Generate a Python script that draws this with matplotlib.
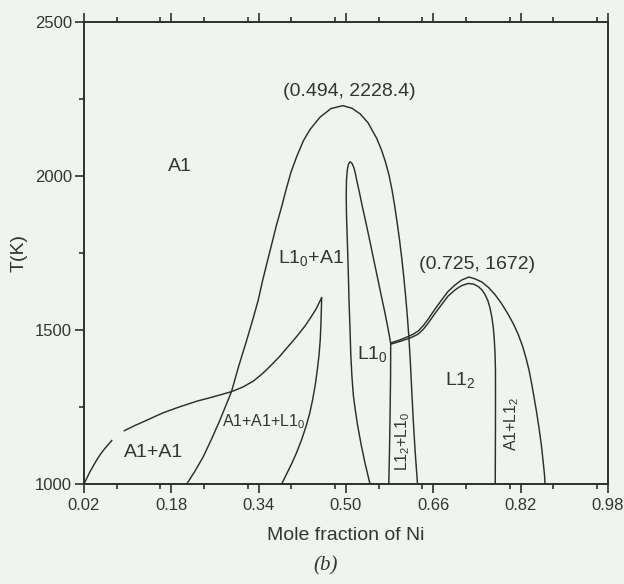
import matplotlib
matplotlib.use("Agg")
import matplotlib.pyplot as plt
from matplotlib.ticker import MultipleLocator, FixedLocator

plt.rcParams['font.family'] = ['Liberation Sans', 'DejaVu Sans']
plt.rcParams['mathtext.fontset'] = 'custom'
plt.rcParams['mathtext.rm'] = 'Liberation Sans'
plt.rcParams['mathtext.it'] = 'Liberation Sans'

# ---- data (mole fraction of Ni, temperature K) ----
small_x = [0.020, 0.0218, 0.031, 0.0433, 0.0502, 0.0585, 0.0708]
small_T = [1000, 1007, 1040, 1078, 1097, 1116, 1141]

misc_x = [0.0938, 0.1134, 0.1349, 0.1647, 0.1959, 0.2270, 0.2569, 0.2906, 0.3113, 0.3302,
          0.3461, 0.3608, 0.3773, 0.3938, 0.4097, 0.4249, 0.4359, 0.4451, 0.4515, 0.4555,
          0.4548, 0.4540, 0.4528, 0.4506, 0.4474, 0.4436, 0.4388, 0.4332, 0.4264, 0.4185,
          0.4093, 0.4002, 0.3910, 0.3822]
misc_T = [1173, 1190, 1207, 1231, 1251, 1269, 1283, 1300, 1315, 1334,
          1357, 1382, 1412, 1446, 1479, 1513, 1542, 1568, 1591, 1606,
          1565, 1516, 1468, 1419, 1370, 1321, 1273, 1227, 1185, 1143,
          1101, 1065, 1032, 1000]

outer_x = [0.2082, 0.2234, 0.2386, 0.2545, 0.2692, 0.2802, 0.2902, 0.3040, 0.3183, 0.3310,
           0.3392, 0.3466, 0.3547, 0.3635, 0.3727, 0.3819, 0.3901, 0.3993, 0.4097, 0.4218,
           0.4341, 0.4524, 0.4725, 0.494, 0.5110, 0.5257, 0.5403, 0.5563, 0.5651, 0.5724,
           0.5788, 0.5843, 0.5889, 0.5935, 0.5981, 0.6021, 0.6057, 0.6090, 0.6122, 0.6149,
           0.6177, 0.6204, 0.6232, 0.6265, 0.6310]
outer_T = [1000, 1042, 1089, 1149, 1208, 1256, 1300, 1386, 1468, 1545,
           1597, 1656, 1714, 1776, 1841, 1899, 1955, 2013, 2063, 2114,
           2151, 2191, 2219, 2228.4, 2220, 2202, 2173, 2122, 2084, 2045,
           2003, 1955, 1906, 1851, 1792, 1734, 1675, 1614, 1549, 1484,
           1403, 1305, 1208, 1110, 1000]

l10_x = [0.5440, 0.5348, 0.5275, 0.5211, 0.5165, 0.5134, 0.5107, 0.5088, 0.5074, 0.5055,
         0.5041, 0.5024, 0.5009, 0.5004, 0.5009, 0.5024, 0.5046, 0.5074, 0.5110, 0.5147,
         0.5174, 0.5202, 0.5248, 0.5293, 0.5367, 0.5440, 0.5513, 0.5587, 0.5651, 0.5706,
         0.5761, 0.5819, 0.5816, 0.5806, 0.5797, 0.5784]
l10_T = [1000, 1068, 1130, 1192, 1247, 1289, 1354, 1419, 1500, 1597,
         1695, 1792, 1873, 1938, 1987, 2020, 2039, 2046, 2041, 2026,
         2006, 1982, 1945, 1906, 1847, 1786, 1724, 1662, 1607, 1562,
         1513, 1457, 1338, 1208, 1110, 1000]

l12o_x = [0.5838, 0.5990, 0.6142, 0.6237, 0.6325, 0.6420, 0.6508, 0.6631, 0.6754, 0.6869,
          0.6997, 0.7116, 0.725, 0.7364, 0.7487, 0.7611, 0.7730, 0.7849, 0.7974, 0.8069,
          0.8157, 0.8234, 0.8298, 0.8353, 0.8399, 0.8445, 0.8491, 0.8536, 0.8579, 0.8613,
          0.8637, 0.8646]
l12o_T = [1459, 1468, 1479, 1487, 1497, 1515, 1536, 1568, 1598, 1625,
          1646, 1662, 1672, 1666, 1656, 1638, 1615, 1586, 1550, 1519,
          1485, 1448, 1409, 1370, 1328, 1282, 1234, 1182, 1127, 1071,
          1029, 1000]

l12i_x = [0.5838, 0.5990, 0.6142, 0.6237, 0.6325, 0.6420, 0.6508, 0.6631, 0.6754, 0.6869,
          0.6997, 0.7116, 0.7236, 0.7336, 0.7424, 0.7492, 0.7547, 0.7598, 0.7639, 0.7672,
          0.7699, 0.7717, 0.7730, 0.7738, 0.7739, 0.7738, 0.7734]
l12i_T = [1455, 1463, 1472, 1479, 1487, 1503, 1523, 1554, 1583, 1610,
          1630, 1644, 1651, 1649, 1641, 1630, 1615, 1596, 1571, 1542,
          1507, 1468, 1425, 1370, 1295, 1175, 1000]

x_ticks = [0.02, 0.18, 0.34, 0.50, 0.66, 0.82, 0.98]
x_ticklabels = ['0.02', '0.18', '0.34', '0.50', '0.66', '0.82', '0.98']
y_ticks = [1000, 1500, 2000, 2500]
y_ticklabels = ['1000', '1500', '2000', '2500']

region_labels = [
    ("A1", 0.1959, 2032, 0, 'center', 'center', 14),
    ("L1$_0$+A1", 0.3762, 1717, 0, 'left', 'baseline', 14),
    ("L1$_0$", 0.5207, 1405, 0, 'left', 'baseline', 14),
    ("L1$_2$", 0.6814, 1321, 0, 'left', 'baseline', 14),
    ("A1+A1", 0.0938, 1089, 0, 'left', 'baseline', 14),
    ("A1+A1+L1$_0$", 0.2723, 1186, 0, 'left', 'baseline', 11.5),
    ("L1$_2$+L1$_0$", 0.6035, 1138, 90, 'center', 'center', 11.5),
    ("A1+L1$_2$", 0.8036, 1195, 90, 'center', 'center', 11.5),
]
annotations = [
    ("(0.494, 2228.4)", 0.5055, 2273),
    ("(0.725, 1672)", 0.7395, 1713),
]

# ---- style ----
bg = '#f1f3f1'
lc = '#26332a'
tc = '#2e382f'

fig = plt.figure(figsize=(6.24, 5.84), dpi=100, facecolor=bg)
ax = fig.add_axes([84/624, 1-484/584, 524/624, 462/584])
ax.set_facecolor(bg)

for xs, ts in [(small_x, small_T), (misc_x, misc_T), (outer_x, outer_T),
               (l10_x, l10_T), (l12o_x, l12o_T), (l12i_x, l12i_T)]:
    ax.plot(xs, ts, color=lc, lw=1.05, solid_joinstyle='round')

ax.set_xlim(0.02, 0.98)
ax.set_ylim(1000, 2500)

ax.xaxis.set_major_locator(FixedLocator(x_ticks))
ax.set_xticklabels(x_ticklabels)
ax.xaxis.set_minor_locator(MultipleLocator(0.08))
ax.yaxis.set_major_locator(FixedLocator(y_ticks))
ax.set_yticklabels(y_ticklabels)
ax.yaxis.set_minor_locator(MultipleLocator(250))

ax.tick_params(axis='x', which='both', direction='out', top=True, bottom=True,
               labeltop=False, colors=lc, labelcolor=tc, labelsize=12, width=1.2)
ax.tick_params(axis='y', which='both', direction='out', left=True, right=False,
               colors=lc, labelcolor=tc, labelsize=12, width=1.2)
ax.tick_params(which='major', length=6.5)
ax.tick_params(which='minor', length=3.5)
ax.tick_params(axis='x', pad=3.5)
ax.tick_params(axis='y', pad=2)

for s in ax.spines.values():
    s.set_color(lc)
    s.set_linewidth(1.4)

ax.set_xlabel("Mole fraction of Ni", fontsize=14, color=tc, labelpad=10)
ax.set_ylabel("T(K)", fontsize=14, color=tc, labelpad=5)

for txt, x, t, rot, ha, va, fs in region_labels:
    ax.text(x, t, txt, rotation=rot, ha=ha, va=va, fontsize=fs, color=tc)

for txt, x, t in annotations:
    ax.text(x, t, txt, ha='center', va='center', fontsize=14, color=tc)

fig.text(326/624, 1-566/584, "(b)", ha='center', va='center', fontsize=15,
         color=tc, family=['Liberation Serif', 'DejaVu Serif'], style='italic')

fig.savefig("out.png", dpi=100, facecolor=bg)
